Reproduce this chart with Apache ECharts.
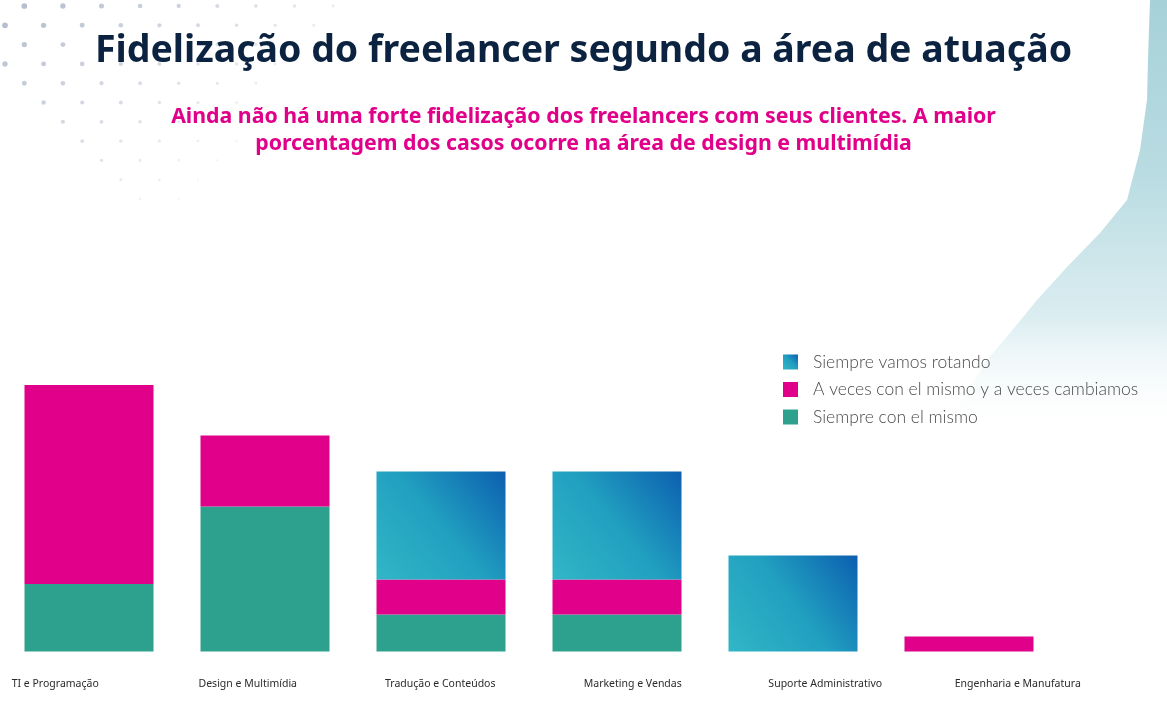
<!DOCTYPE html>
<html>
<head>
<meta charset="utf-8">
<script src="https://cdn.jsdelivr.net/npm/echarts@6/dist/echarts.min.js"></script>
<style>
  html, body { margin: 0; padding: 0; background: #fff; }
  #chart { width: 1167px; height: 705px; }
</style>
</head>
<body>
<div id="chart"></div>
<script>
// dados do gráfico
const categorias = ['TI e Programação', 'Design e Multimídia', 'Tradução e Conteúdos', 'Marketing e Vendas', 'Suporte Administrativo', 'Engenharia e Manufatura']
const siempreMismo = [6.75, 14.5, 3.7, 3.7, 0, 0]
const aVeces = [19.9, 7.1, 3.5, 3.5, 0, 1.5]
const rotando = [0, 0, 10.8, 10.8, 9.6, 0]
const nomesSeries = ['Siempre vamos rotando', 'A veces con el mismo y a veces cambiamos', 'Siempre con el mismo']

const chart = echarts.init(document.getElementById('chart'))

// gradiente azul das barras "rotando"
const azul = {
  type: 'linear', x: 0, y: 1, x2: 1, y2: 0,
  colorStops: [
    { offset: 0, color: '#31b6c6' },
    { offset: 0.5, color: '#21a0c0' },
    { offset: 1, color: '#0c5fb0' }
  ]
}

// pontinhos decorativos no canto superior esquerdo
const pontos = []
for (let r = 0; r < 11; r++) {
  const y = 6 + r * 19.3
  const x0 = r % 2 === 0 ? 24.3 : 5
  const inicio = r < 4 ? x0 : 24.3 + (r - 4) * 19.3
  const fim = 340 - r * 13
  for (let x = x0; x <= fim; x += 38.6) {
    if (x < inicio - 1) continue
    const t = Math.min(1, (x + 1.2 * y) / 420)
    pontos.push({
      type: 'circle',
      silent: true,
      shape: { cx: x, cy: y, r: 3 - 1.9 * t },
      style: { fill: 'rgba(165,175,196,' + (0.75 * (1 - t) + 0.12).toFixed(2) + ')' },
      z: -1
    })
  }
}

// onda azul clara à direita (borda esquerda da onda)
const bordaOnda = [[1150, 0], [1148, 60], [1147, 100], [1140, 150], [1127, 200], [1100, 233], [1067, 267], [1037, 300], [1010, 333], [987, 360], [965, 395], [945, 430]]
const onda = {
  type: 'polygon',
  silent: true,
  z: -2,
  shape: {
    points: bordaOnda.concat([[945, 705], [1167, 705], [1167, 0]])
  },
  style: {
    fill: {
      type: 'linear', x: 0, y: 0, x2: 0, y2: 1,
      colorStops: [
        { offset: 0, color: 'rgba(166,209,216,1)' },
        { offset: 0.25, color: 'rgba(185,220,226,1)' },
        { offset: 0.45, color: 'rgba(215,235,239,0.9)' },
        { offset: 0.62, color: 'rgba(255,255,255,0)' },
        { offset: 1, color: 'rgba(255,255,255,0)' }
      ]
    }
  }
}

const subStyle = { fontFamily: 'Noto Sans', fontWeight: 'bold', fontSize: 21.3, color: '#e0008a' }

chart.setOption({
  backgroundColor: '#fff',
  animation: false,
  graphic: [onda].concat(pontos),
  title: [
    {
      text: 'Fidelização do freelancer segundo a área de atuação',
      left: 'center',
      top: 27,
      textStyle: { fontFamily: 'Noto Sans', fontWeight: 'bold', fontSize: 37.5, color: '#0b2340' }
    },
    {
      text: 'Ainda não há uma forte fidelização dos freelancers com seus clientes. A maior',
      left: 'center',
      top: 101,
      textStyle: subStyle
    },
    {
      text: 'porcentagem dos casos ocorre na área de design e multimídia',
      left: 'center',
      top: 128,
      textStyle: subStyle
    }
  ],
  legend: {
    data: nomesSeries,
    orient: 'vertical',
    left: 778,
    top: 348,
    itemWidth: 15,
    itemHeight: 15,
    itemGap: 9.5,
    icon: 'rect',
    textStyle: { fontFamily: 'Lato', fontWeight: 300, fontSize: 17.5, color: '#4a4a4a', padding: [0, 0, 0, 10] }
  },
  grid: [
    { left: 1, width: 1056, top: 351.5, bottom: 53.5, outerBoundsMode: 'none' },
    { left: -41, width: 1155, top: 670, height: 5, outerBoundsMode: 'none' }
  ],
  xAxis: [
    {
      type: 'category',
      gridIndex: 0,
      data: categorias,
      axisLine: { show: false },
      axisTick: { show: false },
      axisLabel: { show: false }
    },
    {
      type: 'category',
      gridIndex: 1,
      data: categorias,
      axisLine: { show: false },
      axisTick: { show: false },
      axisLabel: { margin: 4, fontFamily: 'Noto Sans', fontSize: 10.5, color: '#2b2b2b' }
    }
  ],
  yAxis: [
    { type: 'value', gridIndex: 0, min: 0, max: 30, show: false },
    { type: 'value', gridIndex: 1, show: false }
  ],
  series: [
    {
      name: 'Siempre con el mismo',
      type: 'bar',
      stack: 'total',
      barWidth: 129,
      data: siempreMismo,
      itemStyle: { color: '#2ea18e' }
    },
    {
      name: 'A veces con el mismo y a veces cambiamos',
      type: 'bar',
      stack: 'total',
      barWidth: 129,
      data: aVeces,
      itemStyle: { color: '#e0008a' }
    },
    {
      name: 'Siempre vamos rotando',
      type: 'bar',
      stack: 'total',
      barWidth: 129,
      data: rotando,
      itemStyle: { color: azul }
    }
  ]
})
</script>
</body>
</html>
